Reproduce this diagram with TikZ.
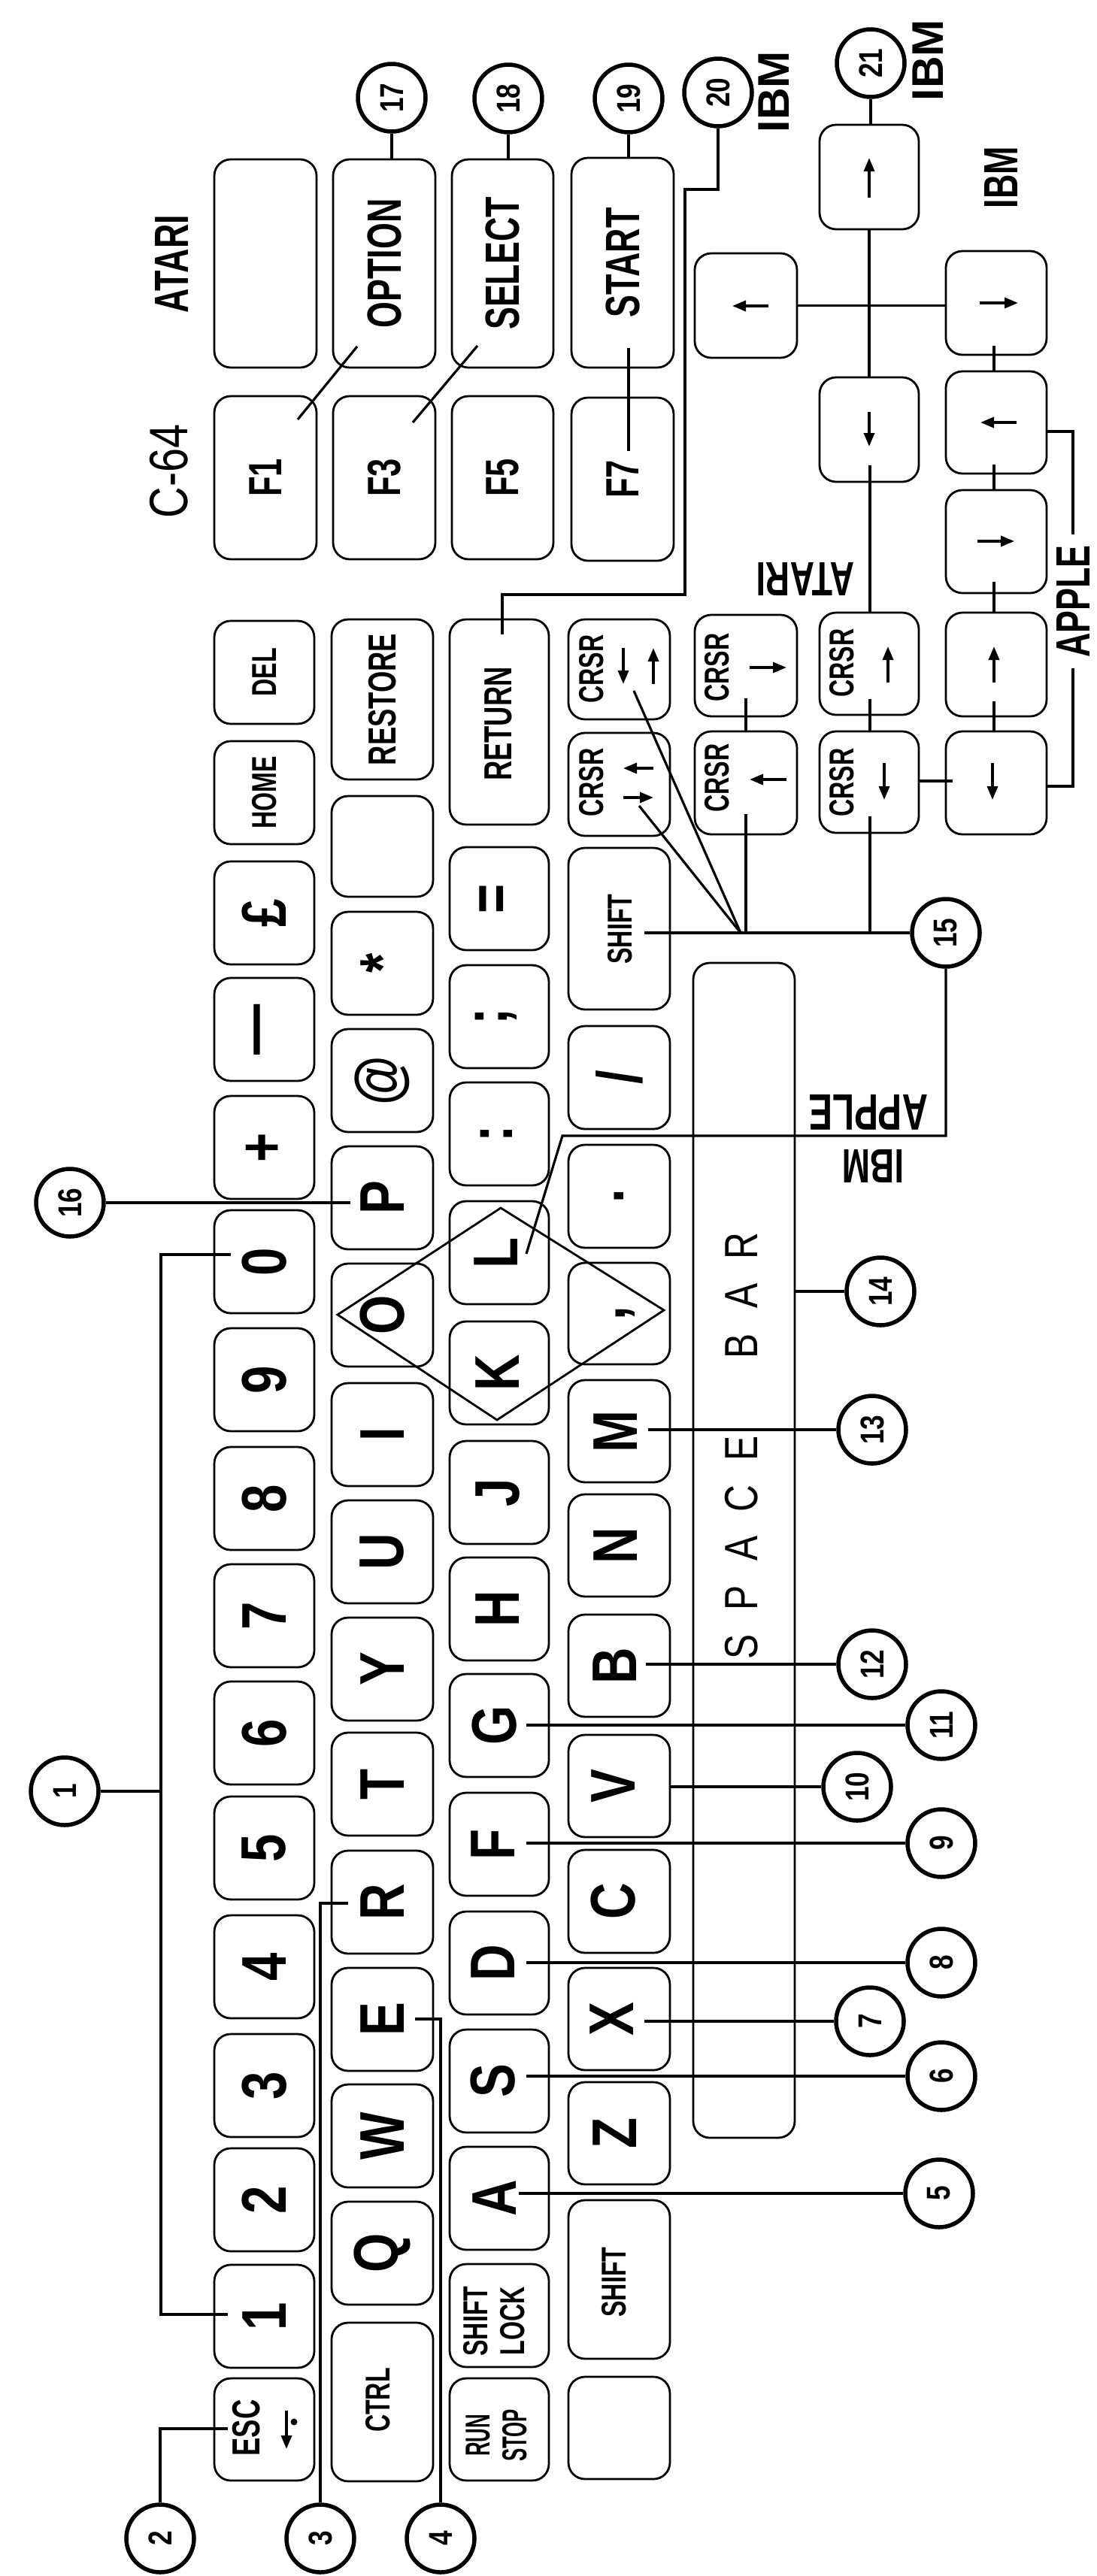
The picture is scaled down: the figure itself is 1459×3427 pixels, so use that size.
\documentclass[tikz,border=0pt]{standalone}
\usepackage{fontspec}
\usepackage{graphicx}
\setmainfont{Liberation Sans}
\newfontfamily\kfam{Liberation Sans}[FakeStretch=0.8]
\newfontfamily\nfam{Liberation Sans}[FakeStretch=0.7]
\newfontfamily\xfam{Liberation Sans}[FakeStretch=0.56]
\usetikzlibrary{arrows.meta}
\newcommand\fntKey{\kfam\bfseries\fontsize{84}{84}\selectfont}
\newcommand\fntLab{\nfam\bfseries\fontsize{64}{64}\selectfont}
\newcommand\fntApl{\nfam\bfseries\fontsize{68}{68}\selectfont}
\newcommand\fntAplR{\nfam\bfseries\fontsize{64}{64}\selectfont}
\newcommand\fntMid{\nfam\bfseries\fontsize{52}{52}\selectfont}
\newcommand\fntSml{\nfam\bfseries\fontsize{46}{49}\selectfont}
\newcommand\fntRS{\xfam\bfseries\fontsize{46}{49}\selectfont}
\newcommand\fntNum{\kfam\bfseries\fontsize{44}{44}\selectfont}
\newcommand\fntSpc{\kfam\fontsize{62}{62}\selectfont}
\newcommand\fntIBM{\bfseries\fontsize{59}{59}\selectfont}
\newcommand\fntCsf{\kfam\fontsize{72}{72}\selectfont}
\newcommand\fntFk{\nfam\bfseries\fontsize{62}{62}\selectfont}
\newcommand\kk[5]{%
  \pgfmathsetmacro\kkW{#4-#2}\pgfmathsetmacro\kkH{#5-#3}%
  \node[keybox,minimum width=\kkW pt,minimum height=\kkH pt] (#1) at ({(#2+#4)/2},{(#3+#5)/2}) {};}
\tikzset{
  keybox/.style={draw,line width=2.8pt,rounded corners=22pt,inner sep=0pt},
  lead/.style={line width=3.2pt},
  numc/.style={circle,draw,line width=5.5pt,minimum size=90pt,inner sep=0pt,fill=white},
  vt/.style={rotate=90,inner sep=0pt},
  ud/.style={rotate=180,inner sep=0pt},
  arr/.style={line width=3.5pt,-{Triangle[length=18pt,width=14pt]}},
}
\begin{document}
\begin{tikzpicture}[x=1pt,y=-1pt]
\fill[white] (0,0) rectangle (1459,3427);
\useasboundingbox (0,0) rectangle (1459,3427);

% ---------- Row 1
\kk{kDel}{285}{826}{418}{963}
\kk{kHome}{285}{986}{418}{1123}
\kk{kPound}{285}{1146}{418}{1283}
\kk{kDash}{285}{1301}{418}{1438}
\kk{kPlus}{285}{1458}{418}{1595}
\kk{kDa}{285}{1610}{418}{1747}
\kk{kDi}{285}{1767}{418}{1904}
\kk{kDh}{285}{1925}{418}{2062}
\kk{kDg}{285}{2081}{418}{2218}
\kk{kDf}{285}{2237}{418}{2374}
\kk{kDe}{285}{2390}{418}{2527}
\kk{kDd}{285}{2548}{418}{2685}
\kk{kDc}{285}{2706}{418}{2843}
\kk{kDb}{285}{2858}{418}{2995}
\kk{kDone}{285}{3013}{418}{3150}
\kk{kEsc}{285}{3164}{418}{3300}
% ---------- Row 2
\kk{kRestore}{441}{824}{576}{1037}
\kk{kBlankB}{441}{1059}{576}{1193}
\kk{kStar}{441}{1213}{576}{1350}
\kk{kAt}{441}{1369}{576}{1506}
\kk{kP}{441}{1525}{576}{1662}
\kk{kO}{441}{1681}{576}{1818}
\kk{kI}{441}{1840}{576}{1977}
\kk{kU}{441}{1996}{576}{2133}
\kk{kY}{441}{2152}{576}{2289}
\kk{kT}{441}{2305}{576}{2442}
\kk{kR}{441}{2462}{576}{2599}
\kk{kE}{441}{2618}{576}{2755}
\kk{kW}{441}{2773}{576}{2910}
\kk{kQ}{441}{2929}{576}{3066}
\kk{kCtrl}{441}{3090}{576}{3301}
% ---------- Row 3
\kk{kReturn}{598}{824}{730}{1097}
\kk{kEq}{598}{1127}{730}{1264}
\kk{kSemi}{598}{1284}{730}{1421}
\kk{kColon}{598}{1440}{730}{1577}
\kk{kL}{598}{1598}{730}{1735}
\kk{kK}{598}{1758}{730}{1895}
\kk{kJ}{598}{1917}{730}{2054}
\kk{kH}{598}{2072}{730}{2209}
\kk{kG}{598}{2227}{730}{2364}
\kk{kF}{598}{2385}{730}{2522}
\kk{kDk}{598}{2543}{730}{2680}
\kk{kS}{598}{2700}{730}{2837}
\kk{kA}{598}{2856}{730}{2993}
\kk{kShLock}{598}{3012}{730}{3149}
\kk{kRun}{598}{3164}{730}{3300}
% ---------- Row 4
\kk{kCaa}{756}{824}{891}{957}
\kk{kCab}{756}{975}{891}{1112}
\kk{kShR}{756}{1128}{891}{1343}
\kk{kSlash}{756}{1365}{891}{1502}
\kk{kDot}{756}{1523}{891}{1660}
\kk{kComma}{756}{1680}{891}{1815}
\kk{kM}{756}{1836}{891}{1972}
\kk{kN}{756}{1988}{891}{2124}
\kk{kB}{756}{2148}{891}{2284}
\kk{kV}{756}{2308}{891}{2444}
\kk{kC}{756}{2461}{891}{2598}
\kk{kX}{756}{2618}{891}{2754}
\kk{kZ}{756}{2770}{891}{2906}
\kk{kShL}{756}{2927}{891}{3138}
\kk{kBlankD}{756}{3162}{891}{3298}
% ---------- Space bar
\kk{kSpace}{922}{1281}{1057}{2844}
% ---------- cursor clusters
\kk{kIlf}{924}{337}{1060}{476}
\kk{kCba}{924}{818}{1060}{953}
\kk{kCbb}{924}{973}{1060}{1110}
\kk{kIup}{1090}{166}{1222}{305}
\kk{kIdn}{1090}{502}{1222}{641}
\kk{kCca}{1090}{815}{1222}{951}
\kk{kCcb}{1090}{973}{1222}{1108}
\kk{kIrt}{1258}{334}{1392}{472}
\kk{kApa}{1258}{494}{1392}{630}
\kk{kApb}{1258}{652}{1392}{789}
\kk{kApc}{1258}{815}{1392}{953}
\kk{kApd}{1258}{973}{1392}{1110}
% ---------- function keys
\kk{kAtB}{285}{212}{421}{489}
\kk{kOpt}{443}{212}{579}{489}
\kk{kSel}{601}{212}{736}{489}
\kk{kSta}{760}{210}{896}{489}
\kk{kFa}{285}{527}{421}{744}
\kk{kFc}{443}{527}{579}{744}
\kk{kFe}{601}{527}{736}{744}
\kk{kFg}{760}{529}{896}{746}

% ---------- key labels row 1
\node[vt,font=\fntSml] (tDel) at (kDel) {DEL};
\node[vt,font=\fntSml] (tHome) at (kHome) {HOME};
\node[vt,font=\fntKey] (tPound) at (kPound) {£};
\node[vt,font=\fntKey] (tDash) at (kDash) {—};
\node[vt,font=\fntKey] (tPlus) at (kPlus) {+};
\node[vt,font=\fntKey] (tDa) at (kDa) {0};
\node[vt,font=\fntKey] (tDi) at (kDi) {9};
\node[vt,font=\fntKey] (tDh) at (kDh) {8};
\node[vt,font=\fntKey] (tDg) at (kDg) {7};
\node[vt,font=\fntKey] (tDf) at (kDf) {6};
\node[vt,font=\fntKey] (tDe) at (kDe) {5};
\node[vt,font=\fntKey] (tDd) at (kDd) {4};
\node[vt,font=\fntKey] (tDc) at (kDc) {3};
\node[vt,font=\fntKey] (tDb) at (kDb) {2};
\node[vt,font=\fntKey] (tDone) at (kDone) {1};
\node[vt,font=\fntMid] (tEsc) at (328,3230) {ESC};
\draw[arr] (381,3207) -- (381,3258);
\fill (391,3222) circle (4.5pt);
% row 2
\node[vt,font=\fntMid] (tRestore) at (kRestore) {RESTORE};
\node[vt,font=\fntKey] (tStar) at (kStar) {*};
\node[vt,font=\fntKey] (tAt) at (kAt) {@};
\node[vt,font=\fntKey] (tP) at (kP) {P};
\node[vt,font=\fntKey] (tO) at (kO) {O};
\node[vt,font=\fntKey] (tI) at (kI) {I};
\node[vt,font=\fntKey] (tU) at (kU) {U};
\node[vt,font=\fntKey] (tY) at (kY) {Y};
\node[vt,font=\fntKey] (tT) at (kT) {T};
\node[vt,font=\fntKey] (tR) at (kR) {R};
\node[vt,font=\fntKey] (tE) at (kE) {E};
\node[vt,font=\fntKey] (tW) at (kW) {W};
\node[vt,font=\fntKey] (tQ) at (kQ) {Q};
\node[vt,font=\fntSml] (tCtrl) at (503,3193) {CTRL};
% row 3
\node[vt,font=\fntMid] (tReturn) at (663,963) {RETURN};
\node[vt,font=\fntKey] (tEq) at ([xshift=-4pt]kEq.center) {=};
\node[vt,font=\fntKey] (tSemi) at ([xshift=-4pt]kSemi.center) {;};
\node[vt,font=\fntKey] (tColon) at ([xshift=-4pt]kColon.center) {:};
\node[vt,font=\fntKey] (tL) at ([xshift=-4pt]kL.center) {L};
\node[vt,font=\fntKey] (tK) at ([xshift=-2pt]kK.center) {K};
\node[vt,font=\fntKey] (tJ) at ([xshift=-2pt]kJ.center) {J};
\node[vt,font=\fntKey] (tH) at ([xshift=-2pt]kH.center) {H};
\node[vt,font=\fntKey] (tG) at ([xshift=-6pt]kG.center) {G};
\node[vt,font=\fntKey] (tF) at ([xshift=-8pt]kF.center) {F};
\node[vt,font=\fntKey] (tDk) at ([xshift=-8pt]kDk.center) {D};
\node[vt,font=\fntKey] (tS) at ([xshift=-8pt]kS.center) {S};
\node[vt,font=\fntKey] (tA) at ([xshift=-6pt]kA.center) {A};
\node[vt,font=\fntSml,align=center] (tShLock) at (657,3088) {SHIFT\\LOCK};
\node[vt,font=\fntRS,align=center] (tRun) at (660,3240) {RUN\\STOP};
% row 4
\node[vt,font=\fntSml] (tCaa) at (787,890) {CRSR};
\draw[arr] (829,862) -- (829,910);
\draw[arr] (869,910) -- (869,862);
\node[vt,font=\fntSml] (tCab) at (787,1041) {CRSR};
\draw[arr] (869,1022) -- (829,1022);
\draw[arr] (829,1061) -- (869,1061);
\node[vt,font=\fntSml] (tShR) at (825,1236) {SHIFT};
\node[vt,font=\fntKey] (tSlash) at (kSlash) {/};
\node[vt,font=\fntKey] (tDot) at (kDot) {.};
\node[vt,font=\fntKey] (tComma) at ([xshift=8pt]kComma.center) {,};
\node[vt,font=\fntKey] (tM) at ([xshift=-5pt]kM.center) {M};
\node[vt,font=\fntKey] (tN) at ([xshift=-5pt]kN.center) {N};
\node[vt,font=\fntKey] (tB) at ([xshift=-6pt]kB.center) {B};
\node[vt,font=\fntKey] (tV) at ([xshift=-8pt]kV.center) {V};
\node[vt,font=\fntKey] (tC) at ([xshift=-8pt]kC.center) {C};
\node[vt,font=\fntKey] (tX) at ([xshift=-10pt]kX.center) {X};
\node[vt,font=\fntKey] (tZ) at ([xshift=-6pt]kZ.center) {Z};
\node[vt,font=\fntSml] (tShL) at (817,3036) {SHIFT};
% space bar letters
\node[vt,font=\fntSpc] (tSpa) at (986,2191) {S};
\node[vt,font=\fntSpc] (tSpb) at (986,2126) {P};
\node[vt,font=\fntSpc] (tSpc) at (986,2060) {A};
\node[vt,font=\fntSpc] (tSpd) at (986,1994) {C};
\node[vt,font=\fntSpc] (tSpe) at (986,1927) {E};
\node[vt,font=\fntSpc] (tSpf) at (986,1791) {B};
\node[vt,font=\fntSpc] (tSpg) at (986,1724) {A};
\node[vt,font=\fntSpc] (tSph) at (986,1658) {R};
% cursor cluster labels and arrows
\node[vt,font=\fntSml] (tCba) at (954,888) {CRSR};
\draw[arr] (997,888) -- (1046,888);
\node[vt,font=\fntSml] (tCbb) at (954,1035) {CRSR};
\draw[arr] (1046,1037) -- (997,1037);
\node[vt,font=\fntSml] (tCca) at (1120,882) {CRSR};
\draw[arr] (1181,908) -- (1181,860);
\node[vt,font=\fntSml] (tCcb) at (1120,1041) {CRSR};
\draw[arr] (1176,1015) -- (1176,1064);
\draw[arr] (1156,263) -- (1156,210);
\draw[arr] (1156,548) -- (1156,594);
\draw[arr] (1022,407) -- (974,407);
\draw[arr] (1303,403) -- (1354,403);
\draw[arr] (1352,562) -- (1304,562);
\draw[arr] (1300,720) -- (1349,720);
\draw[arr] (1322,908) -- (1322,860);
\draw[arr] (1320,1015) -- (1320,1064);
% function key labels
\node[vt,font=\fntLab] (tOpt) at (kOpt) {OPTION};
\node[vt,font=\fntLab] (tSel) at (kSel) {SELECT};
\node[vt,font=\fntLab] (tSta) at (kSta) {START};
\node[vt,font=\fntFk] (tFa) at (kFa) {F1};
\node[vt,font=\fntFk] (tFc) at (kFc) {F3};
\node[vt,font=\fntFk] (tFe) at (kFe) {F5};
\node[vt,font=\fntFk] (tFg) at (kFg) {F7};
% computer labels
\node[vt,font=\fntLab] (lAtari) at (228,351) {ATARI};
\node[vt,font=\fntCsf] (lC64) at (225,627) {C-64};
\node[vt,font=\fntIBM] (lIbmA) at (1029,122) {IBM};
\node[vt,font=\fntIBM] (lIbmB) at (1234,80) {IBM};
\node[vt,font=\fntLab] (lIbmC) at (1331,236) {IBM};
\node[vt,font=\fntAplR] (lApple) at (1427,800) {APPLE};
\node[ud,font=\fntLab] (lAtariU) at (1071,771) {ATARI};
\node[ud,font=\fntApl] (lAppleU) at (1155,1480) {APPLE};
\node[ud,font=\fntLab] (lIbmU) at (1161,1551) {IBM};

% ---------- diamond
\coordinate (dT) at (666,1607);
\coordinate (dL) at (449,1749);
\coordinate (dB) at (661,1889);
\coordinate (dR) at (883,1743);
\draw[line width=2.8pt] (dT) -- (dL) -- (dB) -- (dR) -- cycle;

% ---------- number circles
\node[numc] (c1) at (86,2383) {\rotatebox{90}{\fntNum 1}};
\node[numc] (c2) at (213,3377) {\rotatebox{90}{\fntNum 2}};
\node[numc] (c3) at (426,3377) {\rotatebox{90}{\fntNum 3}};
\node[numc] (c4) at (586,3377) {\rotatebox{90}{\fntNum 4}};
\node[numc] (c5) at (1249,2918) {\rotatebox{90}{\fntNum 5}};
\node[numc] (c6) at (1252,2762) {\rotatebox{90}{\fntNum 6}};
\node[numc] (c7) at (1157,2689) {\rotatebox{90}{\fntNum 7}};
\node[numc] (c8) at (1252,2611) {\rotatebox{90}{\fntNum 8}};
\node[numc] (c9) at (1252,2452) {\rotatebox{90}{\fntNum 9}};
\node[numc] (c10) at (1140,2377) {\rotatebox{90}{\fntNum 10}};
\node[numc] (c11) at (1252,2295) {\rotatebox{90}{\fntNum 11}};
\node[numc] (c12) at (1160,2214) {\rotatebox{90}{\fntNum 12}};
\node[numc] (c13) at (1160,1902) {\rotatebox{90}{\fntNum 13}};
\node[numc] (c14) at (1171,1718) {\rotatebox{90}{\fntNum 14}};
\node[numc] (c15) at (1258,1241) {\rotatebox{90}{\fntNum 15}};
\node[numc] (c16) at (93,1600) {\rotatebox{90}{\fntNum 16}};
\node[numc] (c17) at (521,130) {\rotatebox{90}{\fntNum 17}};
\node[numc] (c18) at (676,131) {\rotatebox{90}{\fntNum 18}};
\node[numc] (c19) at (836,131) {\rotatebox{90}{\fntNum 19}};
\node[numc] (c20) at (955,123) {\rotatebox{90}{\fntNum 20}};
\node[numc] (c21) at (1158,84) {\rotatebox{90}{\fntNum 21}};

% ---------- leaders
% 1
\coordinate (b1a) at (307,1669);
\coordinate (b1b) at (214,1669);
\coordinate (b1c) at (214,3079);
\coordinate (b1d) at (303,3079);
\coordinate (b1m) at (214,2383);
\draw[lead] (b1a) -- (b1b) -- (b1c) -- (b1d);
\draw[lead] (c1) -- (b1m);
% 2,3,4
\coordinate (e2a) at (303,3231);
\coordinate (e2b) at (213,3231);
\draw[lead] (e2a) -- (e2b) -- (c2);
\coordinate (e3a) at (463,2532);
\coordinate (e3b) at (426,2532);
\draw[lead] (e3a) -- (e3b) -- (c3);
\coordinate (e4a) at (552,2686);
\coordinate (e4b) at (586,2686);
\draw[lead] (e4a) -- (e4b) -- (c4);
% 5 - 14
\coordinate (e5) at (690,2918);
\draw[lead] (e5) -- (c5);
\coordinate (e6) at (700,2762);
\draw[lead] (e6) -- (c6);
\coordinate (e7) at (857,2689);
\draw[lead] (e7) -- (c7);
\coordinate (e8) at (700,2611);
\draw[lead] (e8) -- (c8);
\coordinate (e9) at (700,2452);
\draw[lead] (e9) -- (c9);
\draw[lead] (kV.east |- c10) -- (c10);
\coordinate (e11) at (700,2295);
\draw[lead] (e11) -- (c11);
\coordinate (e12) at (859,2214);
\draw[lead] (e12) -- (c12);
\coordinate (e13) at (862,1902);
\draw[lead] (e13) -- (c13);
\draw[lead] (kSpace.east |- c14) -- (c14);
% 15
\coordinate (e15) at (857,1241);
\coordinate (j15) at (985,1241);
\draw[lead] (e15) -- (c15);
\coordinate (e15a) at (843,919);
\coordinate (e15b) at (850,1072);
\draw[lead] (e15a) -- (j15);
\draw[lead] (e15b) -- (j15);
\coordinate (e15c) at (992,929);
\draw[lead] (e15c) -- (e15c |- kCbb.north);
\coordinate (e15d) at (992,1083);
\draw[lead] (e15d) -- (e15d |- c15);
\coordinate (e15e) at (1157,619);
\draw[lead] (e15e) -- (e15e |- kCca.north);
\coordinate (e15f) at (1157,930);
\draw[lead] (e15f) -- (e15f |- kCcb.north);
\coordinate (e15g) at (1157,1086);
\draw[lead] (e15g) -- (e15g |- c15);
\coordinate (b15b) at (748,1511);
\coordinate (b15c) at (700,1668);
\draw[lead] (c15.south) -- (c15.south |- b15b) -- (b15b) -- (b15c);
% apple connections
\coordinate (ap0) at (1322,460);
\draw[lead] (ap0) -- (ap0 |- kApa.north);
\coordinate (apa) at (1322,618);
\draw[lead] (apa) -- (apa |- kApb.north);
\coordinate (apb) at (1322,774);
\draw[lead] (apb) -- (apb |- kApc.north);
\coordinate (apc) at (1322,933);
\draw[lead] (apc) -- (apc |- kApd.north);
\coordinate (apd) at (1267,1039);
\draw[lead] (kCcb.east |- apd) -- (apd);
\coordinate (br1) at (1392,574);
\coordinate (br2) at (1427,574);
\coordinate (br3) at (1427,711);
\coordinate (br4) at (1427,889);
\coordinate (br5) at (1427,1046);
\coordinate (br6) at (1392,1046);
\draw[lead] (br1) -- (br2) -- (br3);
\draw[lead] (br4) -- (br5) -- (br6);
% 16
\coordinate (e16) at (466,1600);
\draw[lead] (e16) -- (c16);
% 17,18,19
\draw[lead] (c17) -- (c17 |- kOpt.north);
\coordinate (e17a) at (396,558);
\coordinate (e17b) at (475,461);
\draw[lead] (e17a) -- (e17b);
\draw[lead] (c18) -- (c18 |- kSel.north);
\coordinate (e18a) at (549,562);
\coordinate (e18b) at (635,460);
\draw[lead] (e18a) -- (e18b);
\draw[lead] (c19) -- (c19 |- kSta.north);
\coordinate (e19a) at (836,463);
\coordinate (e19b) at (836,600);
\draw[lead] (e19a) -- (e19b);
% 20
\coordinate (p20a) at (955,252);
\coordinate (p20b) at (911,252);
\coordinate (p20c) at (911,791);
\coordinate (p20d) at (668,791);
\coordinate (p20e) at (668,844);
\draw[lead] (c20) -- (p20a) -- (p20b) -- (p20c) -- (p20d) -- (p20e);
% 21 / IBM cross
\draw[lead] (c21) -- (c21 |- kIup.north);
\draw[lead] (kIup.south) -- (kIdn.north);
\draw[lead] (kIlf.east) -- (kIlf.east -| kIrt.west);
\end{tikzpicture}
\end{document}
